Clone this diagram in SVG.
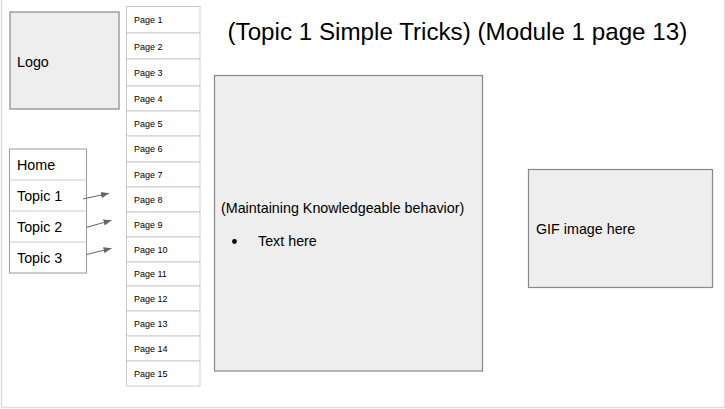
<svg xmlns="http://www.w3.org/2000/svg" width="725" height="409" viewBox="0 0 725 409">
<defs>
<style>
text{font-family:"Liberation Sans",Arial,sans-serif;fill:#000}
.box{fill:#eeeeee;stroke:#888888;stroke-width:1.2}
.cell{fill:#ffffff;stroke:#cccccc;stroke-width:1}
.pg{font-size:9px}
.nav{font-size:14.3px}
.lbl{font-size:14.3px}
.conn{stroke:#666666;stroke-width:1;fill:none;marker-end:url(#ah)}
</style>
<marker id="ah" viewBox="0 0 10 10" refX="10" refY="5" markerWidth="8" markerHeight="8" markerUnits="userSpaceOnUse" orient="auto">
<path d="M0,1 L10,5 L0,9 Z" fill="#666666"/>
</marker>
</defs>
<rect x="0" y="0" width="725" height="409" fill="#ffffff"/>
<path d="M1.5,0 V407.5 H724.5 V0" fill="none" stroke="#dddddd" stroke-width="1.5"/>

<g id="logo"><rect class="box" x="10" y="12" width="109" height="97"/><text class="lbl" x="17" y="67">Logo</text></g>

<g id="pages">
<rect class="cell" x="126.5" y="6.5" width="73.5" height="26.5"/><text class="pg" x="134" y="23">Page 1</text>
<rect class="cell" x="126.5" y="33" width="73.5" height="26"/><text class="pg" x="134" y="49.5">Page 2</text>
<rect class="cell" x="126.5" y="59" width="73.5" height="27"/><text class="pg" x="134" y="76">Page 3</text>
<rect class="cell" x="126.5" y="86" width="73.5" height="25"/><text class="pg" x="134" y="102">Page 4</text>
<rect class="cell" x="126.5" y="111" width="73.5" height="25"/><text class="pg" x="134" y="127">Page 5</text>
<rect class="cell" x="126.5" y="136" width="73.5" height="26"/><text class="pg" x="134" y="152">Page 6</text>
<rect class="cell" x="126.5" y="162" width="73.5" height="25"/><text class="pg" x="134" y="178">Page 7</text>
<rect class="cell" x="126.5" y="187" width="73.5" height="25"/><text class="pg" x="134" y="203">Page 8</text>
<rect class="cell" x="126.5" y="212" width="73.5" height="25"/><text class="pg" x="134" y="228">Page 9</text>
<rect class="cell" x="126.5" y="237" width="73.5" height="25"/><text class="pg" x="134" y="253">Page 10</text>
<rect class="cell" x="126.5" y="262" width="73.5" height="24"/><text class="pg" x="134" y="277">Page 11</text>
<rect class="cell" x="126.5" y="286" width="73.5" height="25"/><text class="pg" x="134" y="302">Page 12</text>
<rect class="cell" x="126.5" y="311" width="73.5" height="25"/><text class="pg" x="134" y="327">Page 13</text>
<rect class="cell" x="126.5" y="336" width="73.5" height="25"/><text class="pg" x="134" y="352">Page 14</text>
<rect class="cell" x="126.5" y="361" width="73.5" height="25"/><text class="pg" x="134" y="377">Page 15</text>
</g>

<g id="nav">
<rect x="9.5" y="149" width="77" height="124" fill="#ffffff" stroke="#999999" stroke-width="1"/>
<path d="M9.5,180 H86.5 M9.5,211 H86.5 M9.5,242 H86.5" stroke="#cccccc" stroke-width="1"/>
<text class="nav" x="17" y="170">Home</text>
<text class="nav" x="17" y="201">Topic 1</text>
<text class="nav" x="17" y="232">Topic 2</text>
<text class="nav" x="17" y="263">Topic 3</text>
</g>

<g id="connectors">
<line class="conn" x1="83" y1="199" x2="109" y2="193.3"/>
<line class="conn" x1="86.7" y1="227.3" x2="111.5" y2="220.3"/>
<line class="conn" x1="86.7" y1="254.5" x2="111.5" y2="248.3"/>
</g>

<g id="title"><text x="227.5" y="40" font-size="24.2px">(Topic 1 Simple Tricks) (Module 1 page 13)</text></g>

<g id="content">
<rect class="box" x="214.5" y="75.5" width="268" height="295.5"/>
<text class="lbl" x="221" y="212.5">(Maintaining Knowledgeable behavior)</text>
<circle cx="234.5" cy="241.5" r="2.4" fill="#000"/>
<text class="lbl" x="258" y="245.5">Text here</text>
</g>

<g id="gif">
<rect class="box" x="528.5" y="169.5" width="184" height="118"/>
<text class="lbl" x="536" y="234">GIF image here</text>
</g>
</svg>
